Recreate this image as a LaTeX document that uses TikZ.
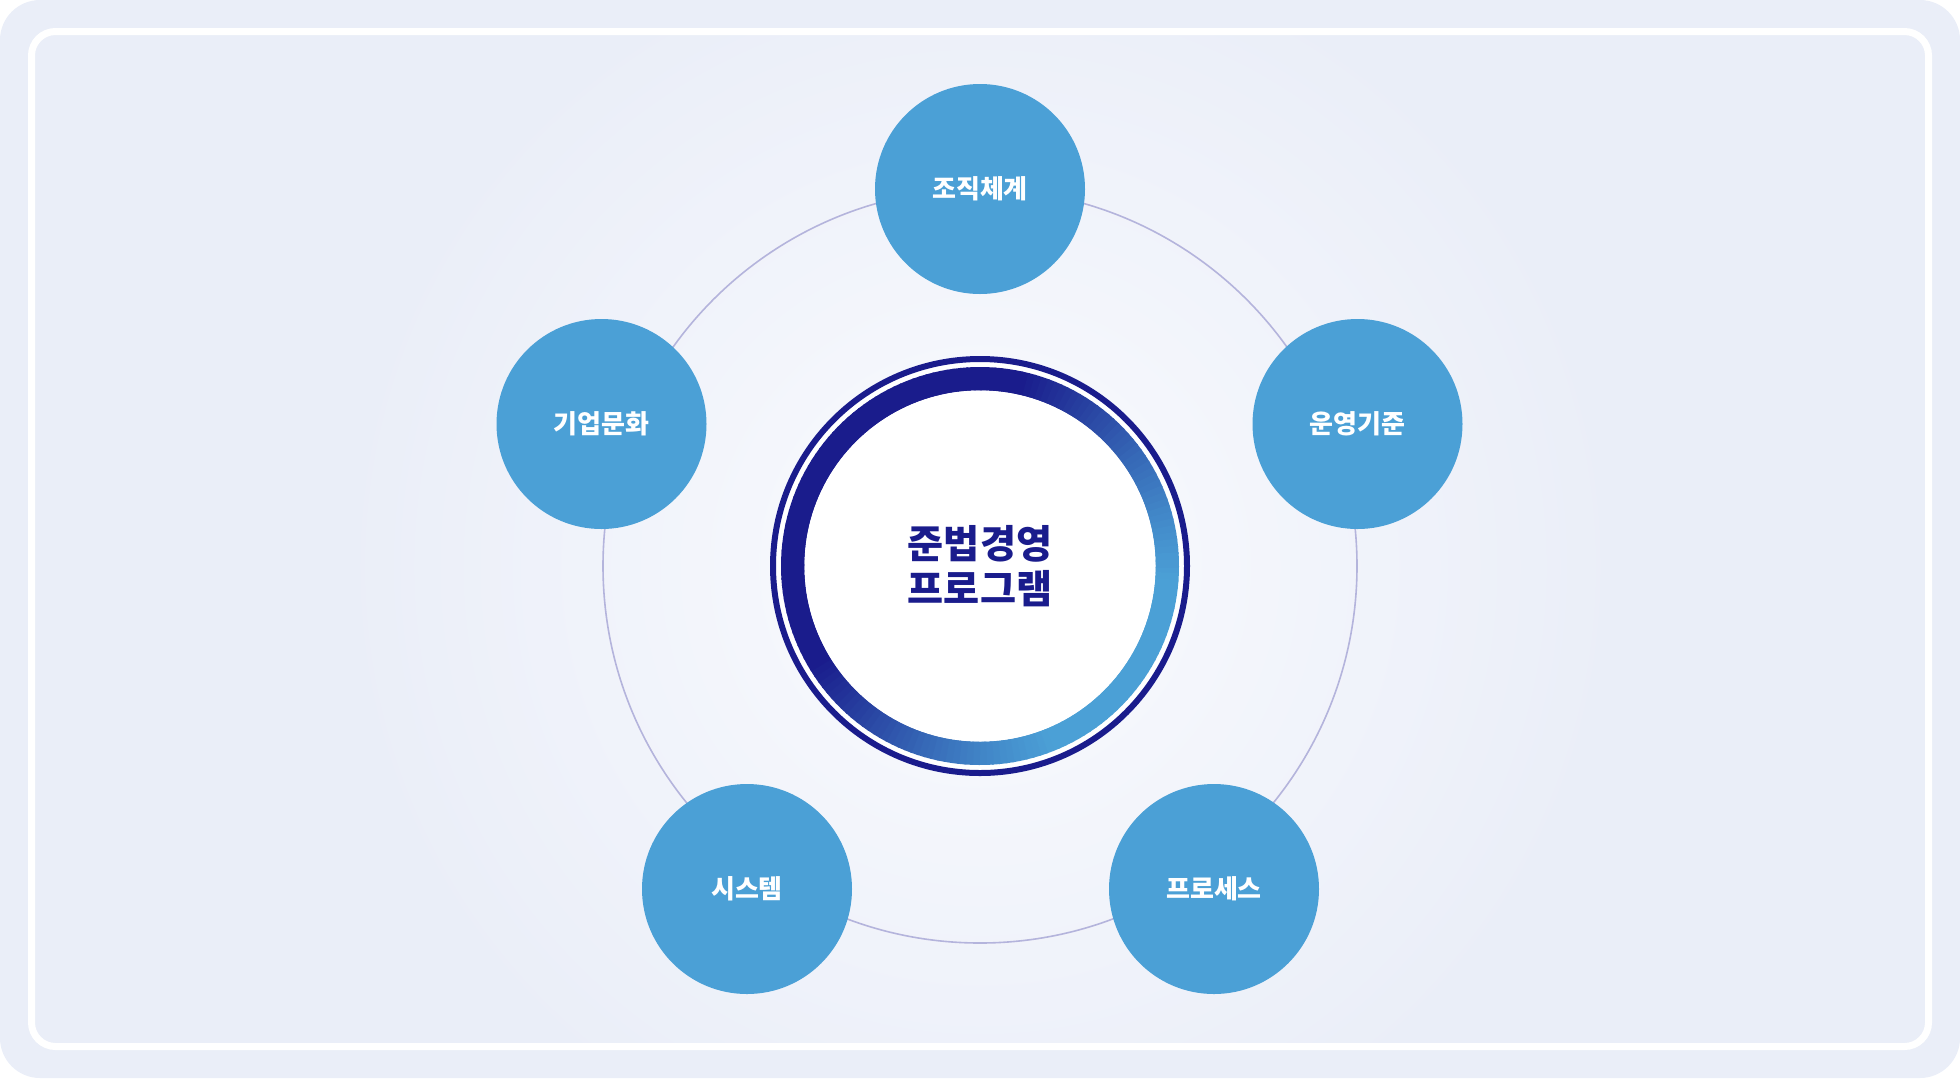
\documentclass[tikz,border=0pt]{standalone}
\usepackage{fontspec}
\newfontfamily\kr{Noto Sans CJK KR}
\definecolor{bgblue}{HTML}{EAEEF8}
\definecolor{navy}{HTML}{1A1C8C}
\definecolor{skyb}{HTML}{4BA0D6}
\definecolor{orbit}{HTML}{B4B4DC}
\definecolor{glow}{HTML}{FAFBFE}
\begin{document}
\begin{tikzpicture}[x=0.5pt,y=-0.5pt,
  sat/.style={circle, fill=skyb, minimum size=105pt, inner sep=0pt, text=white,
    font=\kr\bfseries\fontsize{13pt}{15pt}\selectfont},
  core/.style={circle, fill=white, minimum size=175.5pt, inner sep=0pt, text=navy, align=center,
    font=\kr\bfseries\fontsize{19.6pt}{22.8pt}\selectfont},
  orbitline/.style={draw=orbit, line width=0.8pt},
  frame/.style={draw=white, line width=3.5pt, rounded corners=12pt}]
\useasboundingbox (0,0) rectangle (1960,1078);
% background
\fill[bgblue, rounded corners=20pt] (0,0) rectangle (1960,1078);
\begin{scope}
  \clip[rounded corners=12pt] (31.5,31.5) rectangle (1928.5,1046.5);
  \shade[inner color=glow, outer color=bgblue] (980,566) circle (640);
\end{scope}
\draw[frame] (31.5,31.5) rectangle (1928.5,1046.5);
\coordinate (c) at (980,566);
% orbit
\draw[orbitline] (c) circle (377);
% outer navy ring
\draw[navy, line width=3pt, fill=white] (c) circle (207);
% gradient ring
\foreach \a in {0,2,...,358}{
  \pgfmathsetmacro\ringt{cos(\a-35)}
  \pgfmathtruncatemacro\s{max(0,min(100,100*(\ringt+0.4)/1.25))}
  \draw[line width=11.75pt, draw=skyb!\s!navy] (c) ++(\a:187.25) arc[start angle=\a, end angle=\a+2.6, radius=187.25];
}
% core
\node[core] (main) at (c) {준법경영\\프로그램};
% satellites
\node[sat] (s1) at (980,189) {조직체계};
\node[sat] (s2) at (1357.5,424) {운영기준};
\node[sat] (s3) at (1214,889) {프로세스};
\node[sat] (s4) at (747,889) {시스템};
\node[sat] (s5) at (601.5,424) {기업문화};
\end{tikzpicture}
\end{document}
